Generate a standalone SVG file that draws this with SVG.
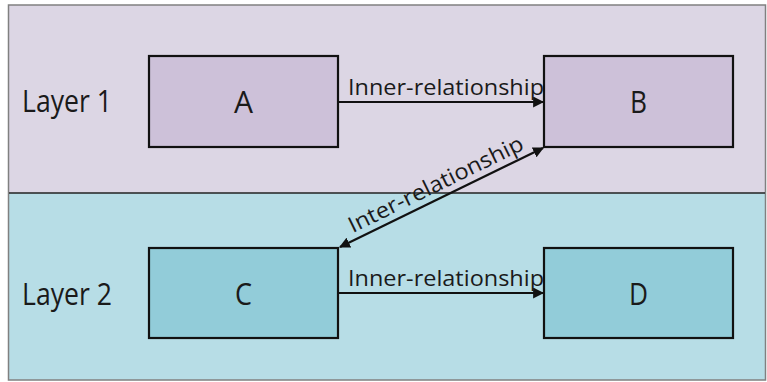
<svg xmlns="http://www.w3.org/2000/svg" width="767" height="382" viewBox="0 0 767 382">
  <defs>
    <marker id="arr" viewBox="0 0 10 10" refX="9" refY="5" markerWidth="5" markerHeight="5" orient="auto-start-reverse" markerUnits="strokeWidth">
      <path d="M0,0 L10,5 L0,10 Z" fill="#111"/>
    </marker>
    <style>
      .lbl { font-family: "Open Sans", "Noto Sans", sans-serif; fill: #1a1a1a; }
      .big { font-size: 31px; }
      .rel { font-size: 22px; }
      .top { fill: #cdc1d9; stroke: #111; stroke-width: 2.2; }
      .bot { fill: #92ccd9; stroke: #111; stroke-width: 2.2; }
      .conn { stroke: #111; stroke-width: 2.2; fill: none; }
    </style>
  </defs>
  <rect x="0" y="0" width="767" height="382" fill="#ffffff"/>
  <g id="layer1">
    <rect x="9" y="5" width="756" height="188" fill="#dcd6e4"/>
    <text class="lbl big" x="22" y="112" textLength="90" lengthAdjust="spacingAndGlyphs">Layer 1</text>
  </g>
  <g id="layer2">
    <rect x="9" y="193" width="756" height="187" fill="#b7dde6"/>
    <text class="lbl big" x="22" y="305" textLength="90" lengthAdjust="spacingAndGlyphs">Layer 2</text>
  </g>
  <rect x="8.5" y="5" width="757" height="375" fill="none" stroke="#808080" stroke-width="1.5"/>
  <line x1="9" y1="193" x2="765" y2="193" stroke="#222" stroke-width="1.5"/>
  <g id="A">
    <rect class="top" x="149" y="56" width="189" height="91"/>
    <text class="lbl big" x="243.5" y="113" text-anchor="middle" textLength="19" lengthAdjust="spacingAndGlyphs">A</text>
  </g>
  <g id="B">
    <rect class="top" x="544" y="56" width="189" height="91"/>
    <text class="lbl big" x="638.5" y="113" text-anchor="middle" textLength="17" lengthAdjust="spacingAndGlyphs">B</text>
  </g>
  <g id="C">
    <rect class="bot" x="149" y="248" width="189" height="90"/>
    <text class="lbl big" x="243.5" y="305" text-anchor="middle" textLength="17" lengthAdjust="spacingAndGlyphs">C</text>
  </g>
  <g id="D">
    <rect class="bot" x="544" y="248" width="189" height="90"/>
    <text class="lbl big" x="638.5" y="305" text-anchor="middle" textLength="19" lengthAdjust="spacingAndGlyphs">D</text>
  </g>
  <g id="connectors">
    <line class="conn" x1="339" y1="102" x2="543" y2="102" marker-end="url(#arr)"/>
    <text class="lbl rel" x="446" y="95" text-anchor="middle" textLength="196" lengthAdjust="spacingAndGlyphs">Inner-relationship</text>
    <line class="conn" x1="339" y1="293" x2="543" y2="293" marker-end="url(#arr)"/>
    <text class="lbl rel" x="446" y="286" text-anchor="middle" textLength="196" lengthAdjust="spacingAndGlyphs">Inner-relationship</text>
    <line class="conn" x1="340" y1="247" x2="543" y2="148" marker-start="url(#arr)" marker-end="url(#arr)"/>
    <text class="lbl rel" x="0" y="0" text-anchor="middle" textLength="192" lengthAdjust="spacingAndGlyphs" transform="translate(439 191) rotate(-26.1)">Inter-relationship</text>
  </g>
</svg>
